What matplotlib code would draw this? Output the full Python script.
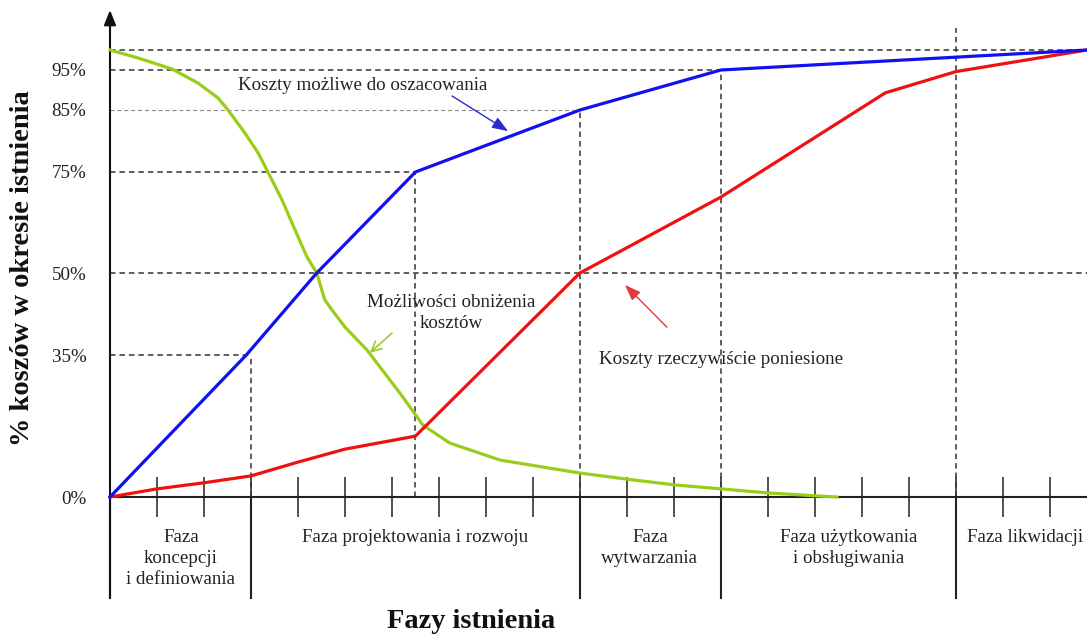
import numpy as np
import matplotlib
matplotlib.use("Agg")
import matplotlib.pyplot as plt

# os y: wartosci procentowe i ich polozenie na rysunku (skala schematyczna)
scale_pct = [0, 35, 50, 75, 85, 95, 100]
scale_pos = [0, 142, 224, 325, 387, 427, 447]

tick_vals = [0, 35, 50, 75, 85, 95]
tick_labels = ["0%", "35%", "50%", "75%", "85%", "95%"]

# granice faz (w jednostkach podzialki osi x)
phase_bounds = [0, 3, 10, 13, 18]
x_end = 20.79
phase_names = ["Faza\nkoncepcji\ni definiowania", "Faza projektowania i rozwoju",
               "Faza\nwytwarzania", "Faza użytkowania\ni obsługiwania", "Faza likwidacji"]
phase_label_x = [1.51, 6.49, 11.49, 15.72, 19.47]

# koszty mozliwe do oszacowania
blue_x = [0, 2.9, 4.4, 6.5, 10, 13, x_end]
blue_y = [0, 35, 50, 75, 85, 95, 100]

# koszty rzeczywiscie poniesione
red_x = [0, 1, 2, 3, 4, 5, 6.5, 10, 13, 16.5, 18, x_end]
red_y = [0, 2, 3.5, 5.2, 8.6, 11.8, 15, 50, 68.8, 89.3, 94.6, 100]

# mozliwosci obnizenia kosztow
green_x = [0, 0.6, 1.32, 1.87, 2.3, 2.51, 2.87, 3.15, 3.36, 3.66, 3.94, 4.19,
           4.4, 4.57, 4.72, 5.0, 5.47, 6.17, 6.66, 7.23, 8.3, 10, 11, 12, 13,
           14, 15, 15.47]
green_y = [100, 98.0, 95.25, 91.75, 88.0, 85.0, 81.3, 78.1, 75, 68.1, 60.6, 54.0,
           50, 45.1, 43.3, 40.1, 35.9, 25.6, 17.7, 13.3, 9.1, 5.9, 4.4, 3.0, 2.0,
           1.0, 0.3, 0]

# linie pomocnicze (narozniki krzywej niebieskiej)
guide_x = [3, 6.5, 10, 13]
guide_y = [35, 75, 85, 95]
full_levels = [50, 100]
late_x = 18


def fwd(p):
    p = np.asarray(p, float)
    out = np.interp(p, scale_pct, scale_pos)
    out = np.where(p < 0, p * scale_pos[1] / scale_pct[1], out)
    out = np.where(p > 100, scale_pos[-1] + (p - 100) * 4.0, out)
    return out


def inv(q):
    q = np.asarray(q, float)
    out = np.interp(q, scale_pos, scale_pct)
    out = np.where(q < 0, q * scale_pct[1] / scale_pos[1], out)
    out = np.where(q > scale_pos[-1], 100 + (q - scale_pos[-1]) / 4.0, out)
    return out


plt.rcParams['font.family'] = ['Liberation Serif', 'DejaVu Serif']

W, H = 1087, 638
fig = plt.figure(figsize=(W / 100, H / 100), dpi=100)
ax = fig.add_axes([110 / W, (H - 497) / H, 977 / W, 447 / H])
ax.set_yscale('function', functions=(fwd, inv))
ax.set_xlim(0, x_end)
ax.set_ylim(0, 100)

for s in ['top', 'right', 'left']:
    ax.spines[s].set_visible(False)
ax.spines['bottom'].set_linewidth(1.5)
ax.spines['bottom'].set_color('#222222')

ax.set_xticks(np.arange(0, 21))
ax.tick_params(axis='x', direction='inout', length=29.5, width=1.1,
               color='#222222', labelbottom=False)
ax.set_yticks(tick_vals, labels=tick_labels)
ax.tick_params(axis='y', length=0, pad=17, labelsize=13.7, labelcolor='#222222')
ax.minorticks_off()

dash = (0, (3.6, 2.6))
dk = '#333333'
for gx, gy in zip(guide_x, guide_y):
    c = '#8a8a8a' if gy == 85 else dk
    lw = 0.8 if gy == 85 else 1.1
    ax.plot([0, gx], [gy, gy], color=c, lw=lw, ls=dash)
    ax.plot([gx, gx], [0, gy], color=dk, lw=1.1, ls=dash)
for lv in full_levels:
    ax.plot([0, x_end], [lv, lv], color=dk, lw=1.1, ls=dash, clip_on=False)
ax.plot([late_x, late_x], [0, 105.5], color=dk, lw=1.1, ls=dash, clip_on=False)

# podzial na fazy pod osia
trans = ax.get_xaxis_transform()
for b in phase_bounds:
    ax.plot([b, b], [-101 / 447, 0], color='#222222', lw=1.5,
            transform=trans, clip_on=False)

# os y ze strzalka
ax.annotate('', xy=(0, (497 - 10) / 447), xytext=(0, -101 / 447),
            xycoords='axes fraction', textcoords='axes fraction',
            arrowprops=dict(arrowstyle='-|>,head_length=0.75,head_width=0.3',
                            mutation_scale=12, lw=1.5, color='#111111',
                            shrinkA=0, shrinkB=0))

ax.plot(green_x, green_y, color='#9acd1a', lw=2.3, clip_on=False, zorder=3,
        solid_joinstyle='round')
ax.plot(red_x, red_y, color='#f01010', lw=2.3, clip_on=False, zorder=4)
ax.plot(blue_x, blue_y, color='#1010f0', lw=2.3, clip_on=False, zorder=5)

for name, lx in zip(phase_names, phase_label_x):
    ax.text(lx, -32 / 447, name, transform=trans, ha='center', va='top',
            fontsize=13.7, color='#222222', linespacing=1.3)

ax.text(2.72, 91, "Koszty możliwe do oszacowania", fontsize=13.7,
        color='#222222', ha='left', va='center')
ax.text(7.26, 42.7, "Możliwości obniżenia\nkosztów", fontsize=13.7,
        color='#222222', ha='center', va='center', linespacing=1.3)
ax.text(10.4, 34.0, "Koszty rzeczywiście poniesione", fontsize=13.7,
        color='#222222', ha='left', va='center')

ax.annotate('', xy=(8.47, 81.6), xytext=(7.28, 88.5),
            arrowprops=dict(arrowstyle='-|>,head_length=0.8,head_width=0.3',
                            mutation_scale=12, lw=1.0, color='#2a2ad0',
                            shrinkA=0, shrinkB=0))
ax.annotate('', xy=(5.53, 35.4), xytext=(6.0, 39.0),
            arrowprops=dict(arrowstyle='->,head_length=0.6,head_width=0.3',
                            mutation_scale=12, lw=1.2, color='#99cc33',
                            shrinkA=0, shrinkB=0))
ax.annotate('', xy=(10.96, 47.8), xytext=(11.85, 40.1),
            arrowprops=dict(arrowstyle='-|>,head_length=0.8,head_width=0.3',
                            mutation_scale=12, lw=1.0, color='#e03a3a',
                            shrinkA=0, shrinkB=0))

fig.text(23 / W, 1 - 268 / H, "% koszów w okresie istnienia", rotation=90,
         ha='center', va='center', fontsize=20.5, fontweight='bold', color='#111111')
fig.text(471 / W, 1 - 622 / H, "Fazy istnienia", ha='center', va='center',
         fontsize=20.5, fontweight='bold', color='#111111')

fig.savefig("out.png", dpi=100)
